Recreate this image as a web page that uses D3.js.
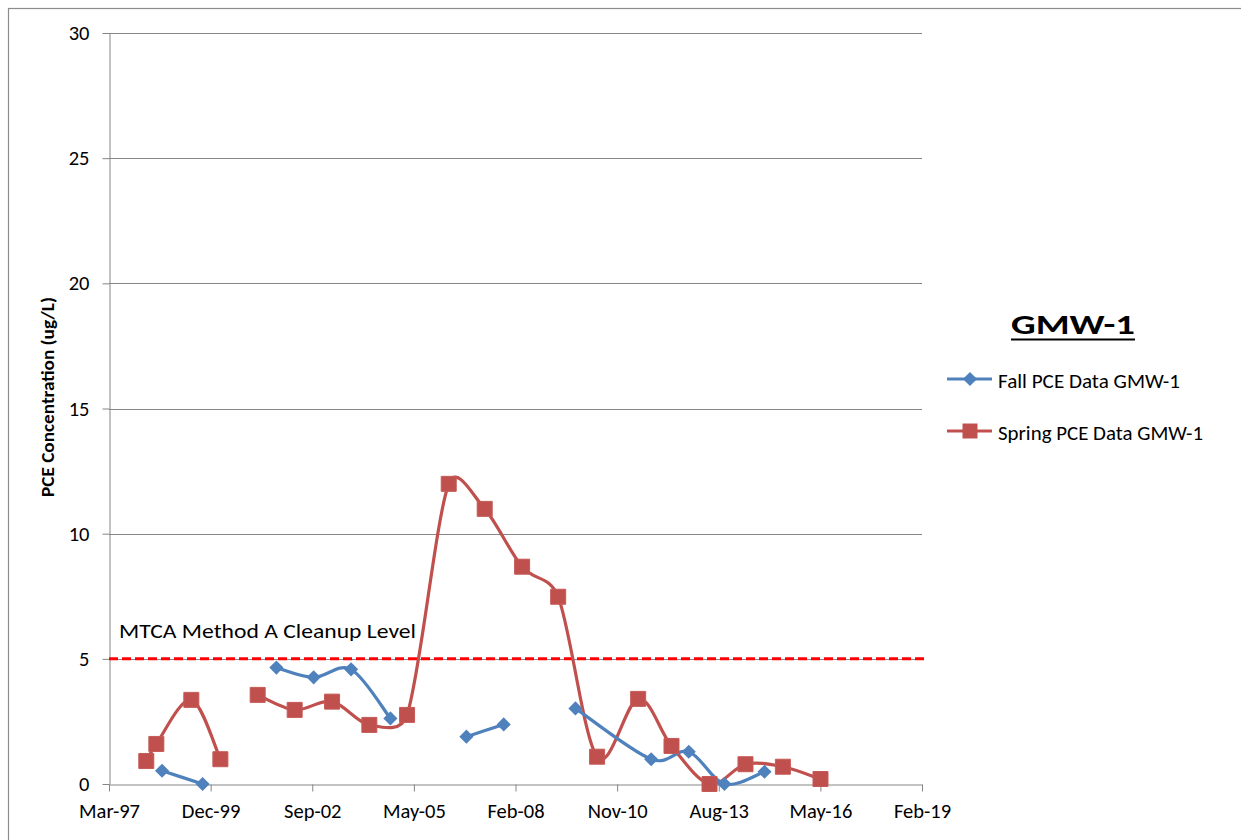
<!DOCTYPE html>
<html><head><meta charset="utf-8">
<script src="https://cdn.jsdelivr.net/npm/d3@7"></script>
<style>
body{margin:0;background:#fff;}
svg{display:block;font-family:Carlito, Calibri, Lato, sans-serif;}
</style></head>
<body>
<svg id="chart" width="1241" height="840"></svg>
<script>
// ---- data ----
const fallDates = ["1998-08-16","1999-09-19",null,"2001-09-14","2002-09-16","2003-09-19","2004-10-10",null,"2006-10-28","2007-10-30",null,"2009-10-05","2011-10-20","2012-10-24","2013-10-10","2014-11-08"];
const fallValues = [0.53,0,null,4.65,4.26,4.58,2.62,null,1.89,2.38,null,3.02,0.99,1.29,0,0.49];
const springDates = ["1998-03-14","1998-06-21","1999-05-31","2000-03-12",null,"2001-03-14","2002-03-13","2003-03-16","2004-03-17","2005-03-23","2006-05-07","2007-04-26","2008-04-28","2009-04-18","2010-05-06","2011-06-14","2012-05-07","2013-05-16","2014-05-05","2015-05-08","2016-05-12"];
const springValues = [0.92,1.6,3.36,0.99,null,3.56,2.96,3.29,2.36,2.76,11.99,10.99,8.68,7.48,1.09,3.4,1.52,0,0.79,0.69,0.2];
const yTicks = [0,5,10,15,20,25,30];
const xStart = "1997-03-12";
const xMajorDays = 1000;
const xTickCount = 9;
const mtcaLevel = 5;
const mtcaRange = ["1997-03-12","2019-04-05"];
const seriesNames = ["Fall PCE Data GMW-1","Spring PCE Data GMW-1"];
const legendTitle = "GMW-1";
const yTitle = "PCE Concentration (ug/L)";
const mtcaLabel = "MTCA Method A Cleanup Level";

// ---- setup ----
const parse = d3.timeParse("%Y-%m-%d");
const svg = d3.select("#chart");
const FONT = "Carlito, Calibri, Lato, sans-serif";
const L = 109, R = 922, T = 33, B = 784;
const start = parse(xStart);
const end = d3.timeDay.offset(start, xMajorDays*(xTickCount-1));
const x = d3.scaleTime().domain([start, end]).range([L, R]);
const y = d3.scaleLinear().domain([0, 30]).range([B, T]);
const gray = "#868686";
const blue = "#4F81BD", red = "#C0504D";

// Excel-like smoothing curve: Catmull-Rom bezier handles (1/6), clamped to half the segment length
function excelSmooth(context){
  let pts = [];
  return {
    areaStart(){}, areaEnd(){},
    lineStart(){ pts = []; },
    point(px,py){ pts.push([px,py]); },
    lineEnd(){
      const n = pts.length;
      if(!n) return;
      context.moveTo(pts[0][0], pts[0][1]);
      for(let i=0;i<n-1;i++){
        const p1=pts[i], p2=pts[i+1], p0=pts[i-1]||p1, p3=pts[i+2]||p2;
        const seg = Math.hypot(p2[0]-p1[0], p2[1]-p1[1]);
        let t1=[(p2[0]-p0[0])/6,(p2[1]-p0[1])/6], t2=[(p3[0]-p1[0])/6,(p3[1]-p1[1])/6];
        const lim = 0.5*seg;
        const l1=Math.hypot(...t1), l2=Math.hypot(...t2);
        if(l1>lim){ t1=[t1[0]*lim/l1, t1[1]*lim/l1]; }
        if(l2>lim){ t2=[t2[0]*lim/l2, t2[1]*lim/l2]; }
        context.bezierCurveTo(p1[0]+t1[0], p1[1]+t1[1], p2[0]-t2[0], p2[1]-t2[1], p2[0], p2[1]);
      }
    }
  };
}

// outer border
svg.append("rect").attr("x",8.5).attr("y",8.5).attr("width",1400).attr("height",1000)
  .attr("fill","none").attr("stroke","#8c8c8c").attr("stroke-width",1.2);

// gridlines
svg.append("g").selectAll("line").data(yTicks.filter(d=>d>0)).join("line")
  .attr("x1",L).attr("x2",R).attr("y1",d=>Math.round(y(d))+0.5).attr("y2",d=>Math.round(y(d))+0.5)
  .attr("stroke",gray).attr("stroke-width",1);

// y axis
const yAxis = svg.append("g").attr("transform",`translate(${L+0.5},0)`)
  .call(d3.axisLeft(y).tickValues(yTicks).tickSize(7).tickSizeOuter(0).tickPadding(13));
yAxis.attr("font-family",FONT).attr("font-size",20.5);
yAxis.select(".domain").attr("stroke",gray);
yAxis.selectAll(".tick line").attr("stroke",gray);
yAxis.selectAll("text").attr("fill","#000");

// x axis
const xTickVals = d3.range(xTickCount).map(i=>d3.timeDay.offset(start, i*xMajorDays));
const xAxis = svg.append("g").attr("transform",`translate(0,${B+0.5})`)
  .call(d3.axisBottom(x).tickValues(xTickVals).tickFormat(d3.timeFormat("%b-%y")).tickSize(7).tickSizeOuter(0).tickPadding(12));
xAxis.attr("font-family",FONT).attr("font-size",20.5);
xAxis.select(".domain").attr("stroke",gray);
xAxis.selectAll(".tick line").attr("stroke",gray);
xAxis.selectAll("text").attr("fill","#000");

// y title
svg.append("text").attr("transform","translate(54,397) rotate(-90)").attr("text-anchor","middle")
  .attr("font-size",18).attr("font-weight","bold")
  .attr("textLength",200).attr("lengthAdjust","spacingAndGlyphs").text(yTitle);

// MTCA line
svg.append("line").attr("x1",x(parse(mtcaRange[0]))).attr("x2",x(parse(mtcaRange[1])))
  .attr("y1",y(mtcaLevel)).attr("y2",y(mtcaLevel))
  .attr("stroke","#FF0000").attr("stroke-width",3).attr("stroke-dasharray","9,4");
svg.append("text").attr("x",119).attr("y",638).attr("font-size",20)
  .attr("textLength",297).attr("lengthAdjust","spacingAndGlyphs").text(mtcaLabel);

// series
const fall = fallDates.map((d,i)=>({d:d?parse(d):null, v:fallValues[i]}));
const spring = springDates.map((d,i)=>({d:d?parse(d):null, v:springValues[i]}));
const line = d3.line().defined(p=>p.d!==null && p.v!==null).x(p=>x(p.d)).y(p=>y(p.v))
  .curve(excelSmooth);

svg.append("path").datum(spring).attr("d",line).attr("fill","none").attr("stroke",red).attr("stroke-width",3.2);
svg.append("path").datum(fall).attr("d",line).attr("fill","none").attr("stroke",blue).attr("stroke-width",3.2);

const diamond = d3.symbol().type(d3.symbolSquare).size(100);
const square = d3.symbol().type(d3.symbolSquare).size(225);

svg.append("g").selectAll("path").data(spring.filter(p=>p.d)).join("path")
  .attr("d",square).attr("transform",p=>`translate(${x(p.d)},${y(p.v)})`)
  .attr("fill",red).attr("stroke","#c65a57").attr("stroke-width",1);
svg.append("g").selectAll("path").data(fall.filter(p=>p.d)).join("path")
  .attr("d",diamond).attr("transform",p=>`translate(${x(p.d)},${y(p.v)}) rotate(45)`)
  .attr("fill",blue);

// legend
svg.append("text").attr("x",1073).attr("y",334).attr("text-anchor","middle")
  .attr("font-size",28).attr("font-weight","bold")
  .attr("textLength",124).attr("lengthAdjust","spacingAndGlyphs").text(legendTitle);
svg.append("line").attr("x1",1011).attr("x2",1135).attr("y1",339.5).attr("y2",339.5)
  .attr("stroke","#000").attr("stroke-width",2.2);

const leg = [{name:seriesNames[0],c:blue,sym:diamond,rot:45,y:379,w:182},{name:seriesNames[1],c:red,sym:square,rot:0,y:431,w:205}];
leg.forEach(o=>{
  svg.append("line").attr("x1",947).attr("x2",992).attr("y1",o.y).attr("y2",o.y).attr("stroke",o.c).attr("stroke-width",3.2);
  svg.append("path").attr("d",o.sym).attr("transform",`translate(970,${o.y}) rotate(${o.rot})`).attr("fill",o.c);
  svg.append("text").attr("x",998).attr("y",o.y+9).attr("font-size",20)
    .attr("textLength",o.w).attr("lengthAdjust","spacingAndGlyphs").text(o.name);
});
</script>
</body></html>
